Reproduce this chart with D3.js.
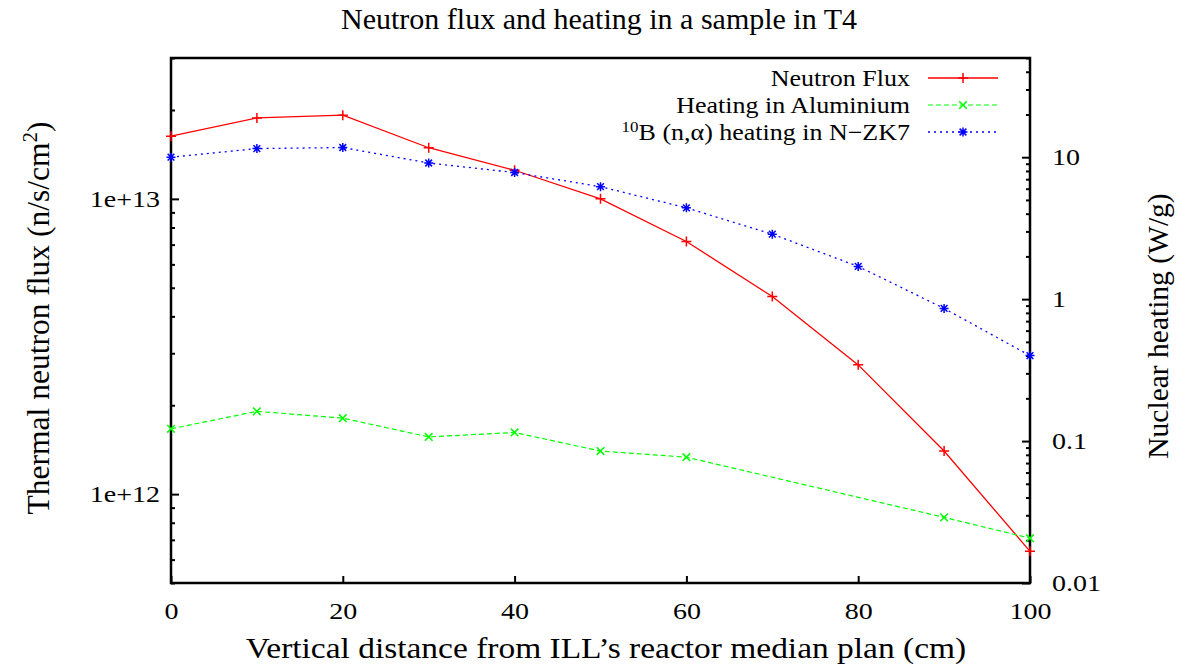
<!DOCTYPE html>
<html>
<head>
<meta charset="utf-8">
<script src="https://cdn.jsdelivr.net/npm/d3@7"></script>
<style>
body { margin: 0; background: #fff; }
text { font-family: "Liberation Serif", "Times New Roman", serif; fill: #000; }
</style>
</head>
<body>
<svg id="chart" width="1178" height="670"></svg>
<script>
// data
var distance = [0, 10, 20, 30, 40, 50, 60, 70, 80, 90, 100];
var neutronFlux = [1.63e13, 1.88e13, 1.92e13, 1.49e13, 1.25e13, 1.0e13, 7.17e12, 4.67e12, 2.74e12, 1.40e12, 6.4e11];
var boronHeating = [10.0, 11.5, 11.7, 9.1, 7.8, 6.2, 4.4, 2.87, 1.70, 0.86, 0.40];
// aluminium has no points at 70 and 80
var aluDistance = [0, 10, 20, 30, 40, 50, 60, 90, 100];
var aluHeating = [0.122, 0.162, 0.145, 0.107, 0.115, 0.085, 0.077, 0.029, 0.0207];

var xTicks = [0, 20, 40, 60, 80, 100];
var fluxDomain = [5e11, 3e13];
var heatDomain = [0.01, 50];

var width = 1178;
var height = 670;
var margin = { top: 58, left: 171, bottom: 87, right: 148 };
var innerW = width - margin.left - margin.right;
var innerH = height - margin.top - margin.bottom;

var svg = d3.select('#chart');
var g = svg.append('g')
    .attr('transform', 'translate(' + margin.left + ',' + margin.top + ')');

var x = d3.scaleLinear().domain([0, 100]).range([0, innerW]);
var yFlux = d3.scaleLog().domain(fluxDomain).range([innerH, 0]);
var yHeat = d3.scaleLog().domain(heatDomain).range([innerH, 0]);

function isDecade(d) {
    var e = Math.log10(d);
    return Math.abs(e - Math.round(e)) < 1e-6;
}

// left axis (flux), ticks point inward
var leftAxis = d3.axisLeft(yFlux)
    .tickValues(yFlux.ticks())
    .tickSizeInner(-4)
    .tickSizeOuter(0)
    .tickPadding(9)
    .tickFormat(function (d) {
        return isDecade(d) ? '1e+' + Math.round(Math.log10(d)) : '';
    });
var gl = g.append('g').call(leftAxis);
gl.select('.domain').remove();
gl.selectAll('.tick line')
    .attr('x2', function (d) { return isDecade(d) ? 8 : 4; })
    .attr('stroke-width', 2);

// right axis (heating)
var rightAxis = d3.axisRight(yHeat)
    .tickValues(yHeat.ticks())
    .tickSizeInner(-4)
    .tickSizeOuter(0)
    .tickPadding(18)
    .tickFormat(function (d) { return isDecade(d) ? d3.format('~g')(d) : ''; });
var gr = g.append('g').attr('transform', 'translate(' + innerW + ',0)').call(rightAxis);
gr.select('.domain').remove();
gr.selectAll('.tick line')
    .attr('x2', function (d) { return isDecade(d) ? -8 : -4; })
    .attr('stroke-width', 2);

// bottom axis
var bottomAxis = d3.axisBottom(x)
    .tickValues(xTicks)
    .tickSizeInner(-7)
    .tickSizeOuter(0)
    .tickPadding(20);
var gb = g.append('g').attr('transform', 'translate(0,' + innerH + ')').call(bottomAxis);
gb.select('.domain').remove();
gb.selectAll('.tick line').attr('stroke-width', 2);

// the picture's tick labels are a bit wider than plain Times
svg.selectAll('.tick text')
    .style('font-family', '"Liberation Serif", serif')
    .style('font-size', '23px')
    .attr('transform', 'scale(1.22,1)');

// frame
g.append('rect')
    .attr('width', innerW)
    .attr('height', innerH)
    .attr('fill', 'none')
    .attr('stroke', '#000')
    .attr('stroke-width', 2.5);

// marker shapes
function plusPath(s) { return 'M' + (-s) + ',0H' + s + 'M0,' + (-s) + 'V' + s; }
function crossPath(s) { return 'M' + (-s) + ',' + (-s) + 'L' + s + ',' + s + 'M' + (-s) + ',' + s + 'L' + s + ',' + (-s); }
function starPath(s) { return plusPath(s) + crossPath(s * 0.75); }

var series = [
    { xs: distance, ys: neutronFlux, scale: yFlux, color: '#ff0000', dash: null, marker: plusPath(5), width: 1.3 },
    { xs: aluDistance, ys: aluHeating, scale: yHeat, color: '#00ff00', dash: '5,3', marker: crossPath(3.8), width: 1.2 },
    { xs: distance, ys: boronHeating, scale: yHeat, color: '#0000ff', dash: '2,4', marker: starPath(4.5), width: 1.3 }
];

series.forEach(function (s) {
    var pts = s.xs.map(function (d, i) { return [d, s.ys[i]]; });
    var line = d3.line()
        .x(function (d) { return x(d[0]); })
        .y(function (d) { return s.scale(d[1]); });
    g.append('path')
        .datum(pts)
        .attr('d', line)
        .attr('fill', 'none')
        .attr('stroke', s.color)
        .attr('stroke-width', s.width)
        .attr('stroke-dasharray', s.dash);
    g.selectAll(null)
        .data(pts)
        .enter().append('path')
        .attr('transform', function (d) { return 'translate(' + x(d[0]) + ',' + s.scale(d[1]) + ')'; })
        .attr('d', s.marker)
        .attr('fill', 'none')
        .attr('stroke', s.color)
        .attr('stroke-width', 1.5);
});

// legend
var legend = svg.append('g');
var legendRows = [78, 105, 132];
var legendLabels = ['Neutron Flux', 'Heating in Aluminium', null];
series.forEach(function (s, i) {
    var row = legend.append('g').attr('transform', 'translate(0,' + legendRows[i] + ')');
    var t = row.append('text')
        .attr('transform', 'translate(910,8) scale(1.13,1)')
        .attr('text-anchor', 'end')
        .style('font-size', '23px');
    if (legendLabels[i]) {
        t.text(legendLabels[i]);
    } else {
        t.append('tspan').attr('dy', -8).style('font-size', '15px').text('10');
        t.append('tspan').attr('dy', 8).text('B (n,\u03b1) heating in N\u2212ZK7');
    }
    row.append('line')
        .attr('x1', 928).attr('x2', 998)
        .attr('stroke', s.color)
        .attr('stroke-width', s.width)
        .attr('stroke-dasharray', s.dash);
    row.append('path')
        .attr('transform', 'translate(963,0)')
        .attr('d', s.marker)
        .attr('fill', 'none')
        .attr('stroke', s.color)
        .attr('stroke-width', 1.5);
});

// title and axis labels
svg.append('text')
    .attr('x', 599).attr('y', 29)
    .attr('text-anchor', 'middle')
    .style('font-size', '30px')
    .text('Neutron flux and heating in a sample in T4');

svg.append('text')
    .attr('transform', 'translate(606,658) scale(1.115,1)')
    .attr('text-anchor', 'middle')
    .style('font-size', '30px')
    .text('Vertical distance from ILL\u2019s reactor median plan (cm)');

var yl = svg.append('text')
    .attr('transform', 'translate(49,318) rotate(-90)')
    .attr('text-anchor', 'middle')
    .style('font-size', '31.5px');
yl.append('tspan').text('Thermal neutron flux (n/s/cm');
yl.append('tspan').attr('dy', -12).style('font-size', '21px').text('2');
yl.append('tspan').attr('dy', 12).text(')');

svg.append('text')
    .attr('transform', 'translate(1168,326) rotate(-90)')
    .attr('text-anchor', 'middle')
    .style('font-size', '29.5px')
    .text('Nuclear heating (W/g)');
</script>
</body>
</html>
